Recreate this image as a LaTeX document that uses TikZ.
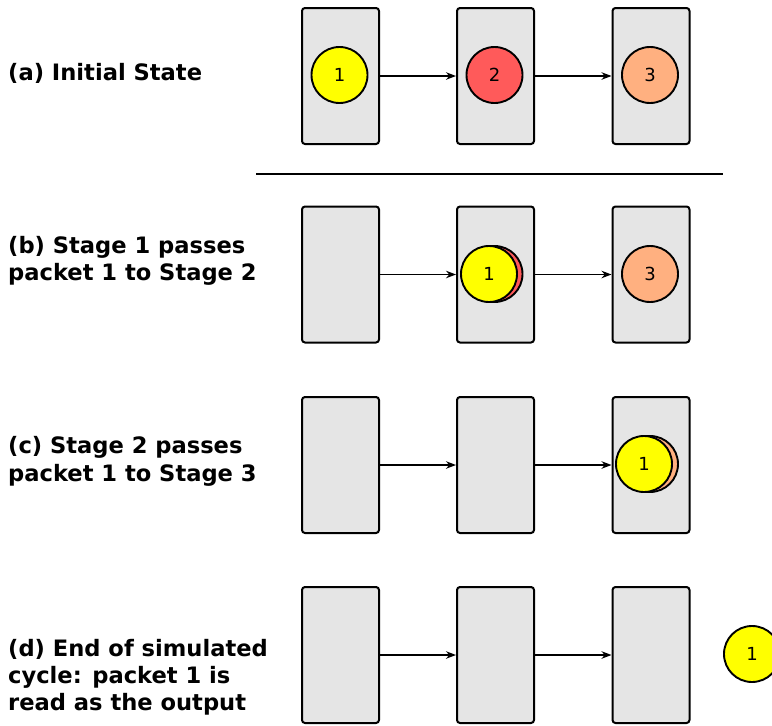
\documentclass[tikz,border=0pt]{standalone}
\usepackage{fontspec}
\setmainfont{DejaVu Sans}
\usetikzlibrary{arrows.meta}
\definecolor{stagegray}{HTML}{E5E5E5}
\definecolor{pkone}{HTML}{FFFF00}
\definecolor{pktwo}{HTML}{FF5A5A}
\definecolor{pkthree}{HTML}{FFB080}

\begin{document}
\begin{tikzpicture}[x=1pt,y=-1pt,
  stagebox/.style={draw=black, line width=2pt, fill=stagegray, rounded corners=3pt,
                   minimum width=77pt, minimum height=136pt, inner sep=0pt},
  packet/.style={circle, draw=black, line width=1.9pt, minimum size=56pt, inner sep=0pt,
                 font=\fontsize{18}{21}\selectfont},
  link/.style={line width=1.4pt, -{Stealth[length=10pt,width=7.5pt]}},
  caption/.style={anchor=base west, inner sep=0pt, font=\bfseries\fontsize{22.6}{27}\selectfont}]
\useasboundingbox (0,0) rectangle (772,726);
\clip (0,0) rectangle (772,726);

% (a) initial state
\node[stagebox] (A1) at (340.5,76) {};
\node[stagebox] (A2) at (495.5,76) {};
\node[stagebox] (A3) at (651,76) {};
\draw[link] (A1.east) -- (A2.west);
\draw[link] (A2.east) -- (A3.west);
\node[packet, fill=pkone]   (pa1) at (339.5,75) {1};
\node[packet, fill=pktwo]   (pa2) at (494.5,75) {2};
\node[packet, fill=pkthree] (pa3) at (650,75) {3};
\node[caption] (la) at (8,80) {(a) Initial State};

% separator
\coordinate (sepL) at (256,174);
\coordinate (sepR) at (723,174);
\draw[line width=2pt] (sepL) -- (sepR);

% (b) stage 1 passes packet 1
\node[stagebox] (B1) at (340.5,274.5) {};
\node[stagebox] (B2) at (495.5,274.5) {};
\node[stagebox] (B3) at (651,274.5) {};
\draw[link] (B1.east) -- (B2.west);
\draw[link] (B2.east) -- (B3.west);
\node[packet, fill=pktwo]   (pb2) at (494.5,274) {};
\node[packet, fill=pkone]   (pb1) at (489,274) {1};
\node[packet, fill=pkthree] (pb3) at (650,274) {3};
\node[caption] (lb1) at (8,253) {(b) Stage 1 passes};
\node[caption] (lb2) at (8,280) {packet 1 to Stage 2};

% (c) stage 2 passes packet 1
\node[stagebox] (C1) at (340.5,465) {};
\node[stagebox] (C2) at (495.5,465) {};
\node[stagebox] (C3) at (651,465) {};
\draw[link] (C1.east) -- (C2.west);
\draw[link] (C2.east) -- (C3.west);
\node[packet, fill=pkthree] (pc3) at (650,464) {};
\node[packet, fill=pkone]   (pc1) at (644,464) {1};
\node[caption] (lc1) at (8,453) {(c) Stage 2 passes};
\node[caption] (lc2) at (8,481) {packet 1 to Stage 3};

% (d) packet 1 leaves as the output
\node[stagebox] (D1) at (340.5,655) {};
\node[stagebox] (D2) at (495.5,655) {};
\node[stagebox] (D3) at (651,655) {};
\draw[link] (D1.east) -- (D2.west);
\draw[link] (D2.east) -- (D3.west);
\node[packet, fill=pkone] (pd1) at (752,654) {1};
\node[caption] (ld1) at (8,656) {(d) End of simulated};
\node[caption] (ld2) at (8,683) {cycle: packet 1 is};
\node[caption] (ld3) at (8,710) {read as the output};
\end{tikzpicture}
\end{document}
